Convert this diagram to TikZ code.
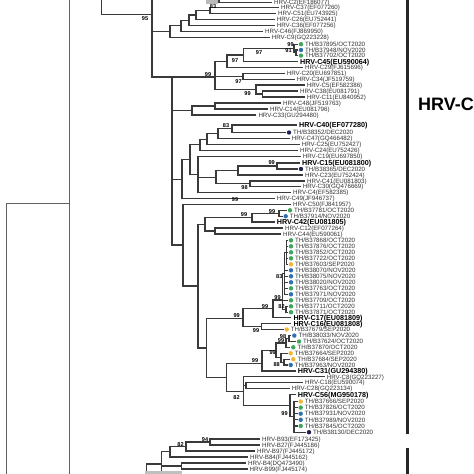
\documentclass[tikz,border=0pt]{standalone}
\usepackage{fontspec}
\newfontfamily\arial{Liberation Sans}
\definecolor{gC}{HTML}{3DA65A}
\definecolor{bC}{HTML}{2F70B4}
\definecolor{yC}{HTML}{F2B632}
\definecolor{nC}{HTML}{1E2150}
\definecolor{ln}{HTML}{3A3A3A}
\definecolor{txt}{HTML}{333333}
\tikzset{
 br/.style={draw=ln, line width=1.05pt},
 br0/.style={draw=ln!80, line width=1pt},
 lab/.style={anchor=west, inner sep=0pt, text=txt, font=\arial\fontsize{6.2}{7}\selectfont, text height=4.4pt, text depth=0pt},
 labb/.style={lab, text=black, font=\arial\fontsize{7.2}{8}\selectfont\bfseries, text height=5.2pt},
 bsl/.style={inner sep=0pt, font=\arial\fontsize{5.6}{6}\selectfont\bfseries},
 dotn/.style={circle, inner sep=0pt, minimum size=4.4pt},
 barl/.style={draw=black!85, line width=2.6pt},
}
\newcommand\Lf[4]{\coordinate (#1) at (#2-2,#3); \node[lab] (#1t) at (#2,#3) {#4};}
\newcommand\Lb[4]{\coordinate (#1) at (#2-2,#3); \node[labb] (#1t) at (#2,#3) {#4};}
\newcommand\Ld[5]{\coordinate (#1) at (#2-3,#3); \node[dotn,fill=#4] (#1d) at (#2,#3) {}; \node[lab] (#1t) at (#2+4,#3) {#5};}
\newcommand\E[2]{\foreach \chn in {#2}{\draw[br] (#1) |- (\chn);}}
\newcommand\bs[4]{\node[bsl] (#1) at (#2,#3) {#4};}
\begin{document}
\begin{tikzpicture}[x=1pt,y=-1pt]
\useasboundingbox (0,0) rectangle (474,474);
\fill[white] (0,0) rectangle (474,474);
\clip (0,0) rectangle (474,474);
% ---------- left backbone
\coordinate (root) at (6,203);
\coordinate (rootB) at (6,480);
\coordinate (n69) at (69.3,203);
\coordinate (n69T) at (69.3,-5);
\coordinate (n69B) at (69.3,480);
\draw[br0] (rootB) -- (root) -- (n69);
\draw[br0] (n69T) -- (n69B);
\coordinate (n101T) at (101.7,-5);
\coordinate (n101) at (101.7,14.5);
\coordinate (N95) at (152,14.5);
\coordinate (N95T) at (152,-5);
\draw[br] (n101T) -- (n101) -- (N95);
\draw[br] (N95T) -- (N95);
% ---------- top C2
\fill[gray!55] (206,0) rectangle (218,3.5);
\coordinate (c2n) at (219,-5);
\Lf{C2}{274}{2.2}{HRV-C2(EF186077)}
\E{c2n}{C2}
% ---------- clade A
\Lf{C37}{281}{7.5}{HRV-C37(EF077260)}
\Lf{C51}{278}{13.5}{HRV-C51(EU743925)}
\Lf{C26}{276.7}{19.5}{HRV-C26(EU752441)}
\Lf{C36}{276.7}{25.5}{HRV-C36(EF077256)}
\Lf{C46}{265}{31.5}{HRV-C46(FJ869950)}
\Lf{C9}{271.7}{37.5}{HRV-C9(GQ223228)}
\coordinate (a1) at (210,10.5); \E{a1}{C37,C51}
\coordinate (a2) at (196,15); \E{a2}{a1,C26}
\coordinate (a3) at (189,20.25); \E{a3}{a2,C36}
\coordinate (a4) at (181,25.9); \E{a4}{a3,C46}
\coordinate (a5) at (170,31.7); \E{a5}{a4,C9}
\E{N95}{a5}
% ---------- clade B
\Ld{TB37895}{301}{44.2}{gC}{TH/B37895/OCT2020}
\Ld{TB37948}{301}{50}{bC}{TH/B37948/NOV2020}
\Ld{TB37702}{301}{55.6}{gC}{TH/B37702/OCT2020}
\Lb{C45}{300}{61.5}{HRV-C45(EU590064)}
\Lf{C29}{305}{67.4}{HRV-C29(FJ615696)}
\Lf{C20}{286.7}{73.2}{HRV-C20(EU697851)}
\Lf{C34}{296.7}{79.1}{HRV-C34(JF519759)}
\Lf{C5}{306.7}{85}{HRV-C5(EF582386)}
\Lf{C38}{300}{91}{HRV-C38(EU081791)}
\Lf{C11}{306.7}{97}{HRV-C11(EU840952)}
\coordinate (t1) at (296,52.8); \E{t1}{TB37948,TB37702}
\coordinate (t2) at (294,48.5); \E{t2}{TB37895,t1}
\coordinate (b2) at (243.3,55); \E{b2}{t2,C45}
\coordinate (b1) at (227,61.2); \E{b1}{b2,C29}
\coordinate (b5) at (243,76.15); \E{b5}{C20,C34}
\coordinate (b6) at (262.5,94); \E{b6}{C38,C11}
\coordinate (b7) at (256,89.5); \E{b7}{C5,b6}
\coordinate (B) at (215,77); \E{B}{b1,b5,b7}
\E{N95}{B}
\coordinate (V2) at (172,77);
% ---------- R1
\Lf{C48}{283}{103}{HRV-C48(JF519763)}
\Lf{C14}{270}{109}{HRV-C14(EU081796)}
\Lf{C33}{258.3}{115}{HRV-C33(GU294480)}
\coordinate (r1) at (215,106); \E{r1}{C48,C14}
\coordinate (r2) at (192,110.5); \E{r2}{r1,C33}
% ---------- R2
\Lb{C40}{299}{125}{HRV-C40(EF077280)}
\Ld{TB38352}{289}{132.5}{nC}{TH/B38352/DEC2020}
\Lf{C47}{291.7}{138.6}{HRV-C47(GQ466482)}
\Lf{C25}{301.7}{144.5}{HRV-C25(EU752427)}
\Lf{C24}{300}{150.5}{HRV-C24(EU752426)}
\Lf{C19}{302.7}{156.5}{HRV-C19(EU697850)}
\Lb{C15}{302}{163}{HRV-C15(EU081800)}
\Ld{TB38365}{301}{169}{nC}{TH/B38365/DEC2020}
\Lf{C23}{305}{175}{HRV-C23(EU752424)}
\Lf{C41}{307}{181}{HRV-C41(EU081803)}
\Lf{C30}{302.7}{186.6}{HRV-C30(GQ476669)}
\Lf{C4}{293}{192.5}{HRV-C4(EF582385)}
\Lf{C49}{276.7}{198.5}{HRV-C49(JF946737)}
\coordinate (r2a) at (232,128.75); \E{r2a}{C40,TB38352}
\coordinate (r2b) at (218,133.65); \E{r2b}{r2a,C47}
\coordinate (r2c) at (207,139.1); \E{r2c}{r2b,C25}
\coordinate (r2d) at (200,144.8); \E{r2d}{r2c,C24}
\coordinate (r2e) at (277,166); \E{r2e}{C15,TB38365}
\coordinate (r2f) at (238,170.5); \E{r2f}{r2e,C23}
\coordinate (r2g) at (250,183.8); \E{r2g}{C41,C30}
\coordinate (r2h) at (216,177.15); \E{r2h}{r2f,r2g}
\coordinate (r2i) at (198,174.5); \E{r2i}{C19,r2h,C4}
\coordinate (r2j) at (190,159.65); \E{r2j}{r2d,r2i}
\coordinate (r2k) at (182,179.1); \E{r2k}{r2j,C49}
% ---------- R3
\Lf{C50}{293}{204.5}{HRV-C50(FJ841957)}
\Ld{TB37781}{290}{210.3}{gC}{TH/B37781/OCT2020}
\Ld{TB37914}{285.7}{216.2}{bC}{TH/B37914/NOV2020}
\Lb{C42}{276.7}{222}{HRV-C42(EU081805)}
\Lf{C12}{285}{228}{HRV-C12(EF077264)}
\Lf{C44}{283}{234}{HRV-C44(EU590061)}
\coordinate (r3a) at (279,213.25); \E{r3a}{TB37781,TB37914}
\coordinate (r3b) at (252,217.6); \E{r3b}{r3a,C42}
\coordinate (r3d) at (215,231); \E{r3d}{C12,C44}
\coordinate (r3c) at (205,224.3); \E{r3c}{r3b,r3d}
% ---------- R4 cluster
\Ld{TB37868}{291}{240.3}{gC}{TH/B37868/OCT2020}
\Ld{TB37876}{291}{246.3}{gC}{TH/B37876/OCT2020}
\Ld{TB37852}{291}{252.3}{gC}{TH/B37852/OCT2020}
\Ld{TB37722}{291}{258.3}{gC}{TH/B37722/OCT2020}
\Ld{TB37603}{291}{264.3}{yC}{TH/B37603/SEP2020}
\Ld{TB38070}{291}{270.3}{bC}{TH/B38070/NOV2020}
\Ld{TB38075}{291}{276.3}{bC}{TH/B38075/NOV2020}
\Ld{TB38020}{291}{282.3}{bC}{TH/B38020/NOV2020}
\Ld{TB37763}{291}{288.3}{gC}{TH/B37763/OCT2020}
\Ld{TB37971}{291}{294.3}{bC}{TH/B37971/NOV2020}
\Ld{TB37709}{291}{300.3}{gC}{TH/B37709/OCT2020}
\Ld{TB37711}{291}{306.3}{gC}{TH/B37711/OCT2020}
\Ld{TB37871}{291}{312.2}{gC}{TH/B37871/OCT2020}
\Lb{C17}{293.3}{317.8}{HRV-C17(EU081809)}
\Lb{C16}{293.3}{323.5}{HRV-C16(EU081808)}
\Ld{TB37679}{286.7}{329.5}{yC}{TH/B37679/SEP2020}
\coordinate (K0) at (286.5,252.3); \E{K0}{TB37868,TB37876,TB37852,TB37722,TB37603}
\coordinate (K1) at (284.5,273.3); \E{K1}{K0,TB38070,TB38075,TB38020,TB37763,TB37971}
\coordinate (K2) at (286,309.25); \E{K2}{TB37711,TB37871}
\coordinate (K) at (282.5,300); \E{K}{K1,TB37709,K2}
\coordinate (Q) at (273,308.7); \E{Q}{K,C17}
\coordinate (S) at (261.7,326.5); \E{S}{C16,TB37679}
\coordinate (P) at (243,318.5); \E{P}{Q,S}
% ---------- R4 lower
\Ld{TB38033}{294.3}{335.6}{bC}{TH/B38033/NOV2020}
\Ld{TB37624}{299}{341.5}{gC}{TH/B37624/OCT2020}
\Ld{TB37870}{293.3}{347.3}{gC}{TH/B37870/OCT2020}
\Ld{TB37664}{290.7}{353.3}{yC}{TH/B37664/SEP2020}
\Ld{TB37684}{293.3}{359.2}{yC}{TH/B37684/SEP2020}
\Ld{TB37963}{290.7}{365}{bC}{TH/B37963/NOV2020}
\Lb{C31}{297.7}{371}{HRV-C31(GU294380)}
\Lf{C8}{326.7}{376.8}{HRV-C8(GQ223227)}
\Lf{C18}{305}{382.7}{HRV-C18(EU590074)}
\Lf{C28}{291.7}{388.6}{HRV-C28(GQ223134)}
\Lb{C56}{297.7}{394.5}{HRV-C56(MG950178)}
\Ld{TB37666}{300.7}{401.5}{yC}{TH/B37666/SEP2020}
\Ld{TB37826}{300.7}{407.6}{gC}{TH/B37826/OCT2020}
\Ld{TB37931}{300.7}{413.7}{bC}{TH/B37931/NOV2020}
\Ld{TB37989}{300.7}{419.8}{bC}{TH/B37989/NOV2020}
\Ld{TB37845}{300.7}{426}{gC}{TH/B37845/OCT2020}
\Ld{TB38130}{309}{432.2}{nC}{TH/B38130/DEC2020}
\coordinate (h1) at (289,338.5); \E{h1}{TB38033,TB37624}
\coordinate (h2) at (286,343); \E{h2}{h1,TB37870}
\coordinate (i1) at (284,362.1); \E{i1}{TB37684,TB37963}
\coordinate (i2) at (281,357.7); \E{i2}{TB37664,i1}
\coordinate (R4g) at (276,350.3); \E{R4g}{h2,i2}
\coordinate (R4e) at (262,363.7); \E{R4e}{R4g,C31}
\coordinate (R4k) at (246,385.65); \E{R4k}{C18,C28}
\coordinate (R4m) at (294,416.85); \E{R4m}{TB37666,TB37826,TB37931,TB37989,TB37845,TB38130}
\coordinate (R4l) at (290,405.7); \E{R4l}{C56,R4m}
\coordinate (R4f) at (243.3,391.25); \E{R4f}{C8,R4k,R4l}
\coordinate (R4d) at (226.7,377.5); \E{R4d}{R4e,R4f}
\coordinate (R4b) at (206.7,348); \E{R4b}{P,R4d}
\coordinate (R4a) at (198,286); \E{R4a}{r3c,R4b}
\coordinate (r3e) at (183,245); \E{r3e}{C50,R4a}
\E{V2}{r2,r2k,r3e}
% ---------- HRV-B
\Lf{B93}{262}{439}{HRV-B93(EF173425)}
\Lf{B27}{262}{445}{HRV-B27(FJ445186)}
\Lf{B97}{257}{451}{HRV-B97(FJ445172)}
\Lf{B84}{250}{457}{HRV-B84(FJ445162)}
\Lf{B4}{248}{463}{HRV-B4(DQ473490)}
\Lf{B99}{249.5}{469}{HRV-B99(FJ445174)}
\coordinate (bb1) at (210,442); \E{bb1}{B93,B27}
\coordinate (bb2) at (186,446.5); \E{bb2}{bb1,B97}
\coordinate (bb3) at (170,451.75); \E{bb3}{bb2,B84}
\coordinate (bb5) at (181.7,466); \E{bb5}{B4,B99}
\coordinate (bb4) at (161.7,464);
\coordinate (bb4B) at (161.7,480);
\E{bb4}{bb3,bb5,bb4B}
\coordinate (bb6) at (146.7,464);
\coordinate (bb6B) at (146.7,480);
\draw[br] (bb6B) -- (bb6) -- (bb4);
\fill[gray!50] (145,471) rectangle (182,474.5);
% ---------- bootstrap values
\bs{bs1}{213}{6.5}{83}
\bs{bs2}{145}{18.5}{95}
\bs{bs3}{290.5}{44.5}{99}
\bs{bs4}{288.5}{50.2}{91}
\bs{bs5}{259}{53}{97}
\bs{bs6}{235}{60.5}{97}
\bs{bs7}{208}{74.2}{99}
\bs{bs8}{238.5}{82}{97}
\bs{bs9}{247.5}{93.8}{99}
\bs{bs10}{226}{125.5}{83}
\bs{bs11}{271.7}{163}{99}
\bs{bs12}{244.5}{188}{98}
\bs{bs13}{235}{200}{99}
\bs{bs14}{272}{211.5}{99}
\bs{bs15}{244}{215}{99}
\bs{bs16}{279.3}{276.5}{83}
\bs{bs17}{277.5}{297.5}{99}
\bs{bs18}{281.5}{306.6}{82}
\bs{bs19}{265}{306.3}{99}
\bs{bs20}{236.7}{315.5}{99}
\bs{bs21}{256}{331}{99}
\bs{bs22}{283}{336.3}{98}
\bs{bs23}{281}{340.8}{99}
\bs{bs24}{272.7}{353}{99}
\bs{bs25}{255}{361}{99}
\bs{bs26}{276.7}{365}{88}
\bs{bs27}{236.5}{397.8}{82}
\bs{bs28}{284.5}{413.8}{99}
\bs{bs29}{205}{439.5}{94}
\bs{bs30}{180.5}{444.2}{82}
% ---------- clade bars
\coordinate (barCt) at (407.3,-3);
\coordinate (barCb) at (407.3,433.5);
\coordinate (barBt) at (407.3,448.3);
\coordinate (barBb) at (407.3,480);
\draw[barl] (barCt) -- (barCb);
\draw[barl] (barBt) -- (barBb);
\node[anchor=west, inner sep=0pt, font=\arial\fontsize{18}{21}\selectfont\bfseries] (cladeC) at (418,104) {HRV-C};
\end{tikzpicture}
\end{document}
